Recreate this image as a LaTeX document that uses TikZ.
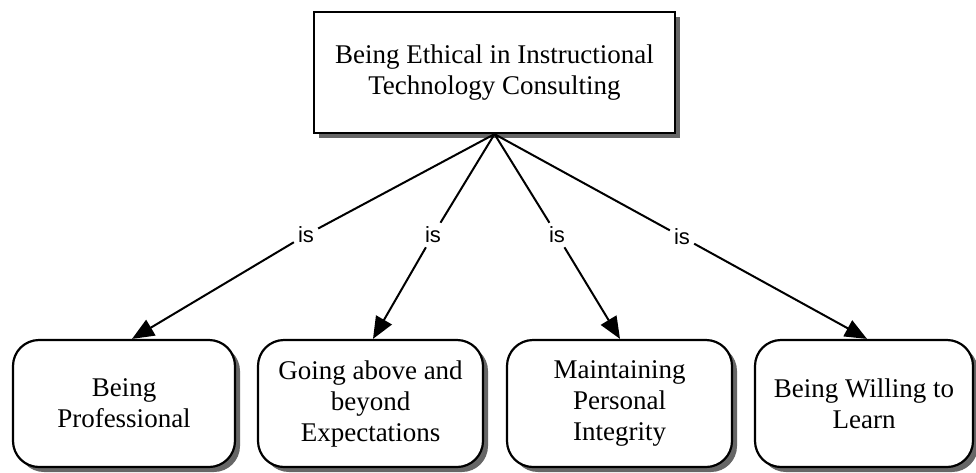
\documentclass[tikz,border=0pt]{standalone}
\usepackage{fontspec}
\setmainfont{Liberation Serif}
\newfontfamily\labelfont{Liberation Sans}
\usetikzlibrary{shadows,arrows.meta}
\tikzset{
  boxshadow/.style={drop shadow={shadow xshift=5pt,shadow yshift=-5pt,fill=black!60,opacity=1}},
  topbox/.style={draw=black,line width=2.2pt,fill=white,boxshadow,minimum width=361pt,minimum height=121pt,align=center,font=\fontsize{27}{31}\selectfont,inner sep=0pt},
  conceptbox/.style={draw=black,line width=2.2pt,fill=white,boxshadow,rounded corners=26pt,minimum height=127pt,align=center,font=\fontsize{27}{31}\selectfont,inner sep=0pt},
  linklabel/.style={font=\labelfont\fontsize{22}{24}\selectfont,inner sep=4pt},
  conn/.style={line width=2pt,black},
  arrowconn/.style={conn,-{Triangle[length=22pt,width=18pt]}}
}
\begin{document}
\begin{tikzpicture}[x=1pt,y=-1pt]
\useasboundingbox[fill=white] (0,0) rectangle (976,472);
\node[topbox] (top) at (494.5,72.5) {Being Ethical in Instructional\\Technology Consulting};
\node[conceptbox,minimum width=222pt] (b1) at (124,403.5) {Being\\Professional};
\node[conceptbox,minimum width=225pt] (b2) at (370.5,403.5) {Going above and\\beyond\\Expectations};
\node[conceptbox,minimum width=225pt] (b3) at (619.5,403.5) {Maintaining\\Personal\\Integrity};
\node[conceptbox,minimum width=218pt] (b4) at (864,403.5) {Being Willing to\\Learn};
\node[linklabel] (l1) at (306,235) {is};
\node[linklabel] (l2) at (433,235) {is};
\node[linklabel] (l3) at (557,235) {is};
\node[linklabel] (l4) at (682,237) {is};
\draw[conn] (top.south) -- (l1);
\draw[conn] (top.south) -- (l2);
\draw[conn] (top.south) -- (l3);
\draw[conn] (top.south) -- (l4);
\draw[arrowconn] (l1) -- ([xshift=8pt]b1.north);
\draw[arrowconn] (l2) -- ([xshift=2.5pt]b2.north);
\draw[arrowconn] (l3) -- ([xshift=0.5pt]b3.north);
\draw[arrowconn] (l4) -- ([xshift=3pt]b4.north);
\end{tikzpicture}
\end{document}
